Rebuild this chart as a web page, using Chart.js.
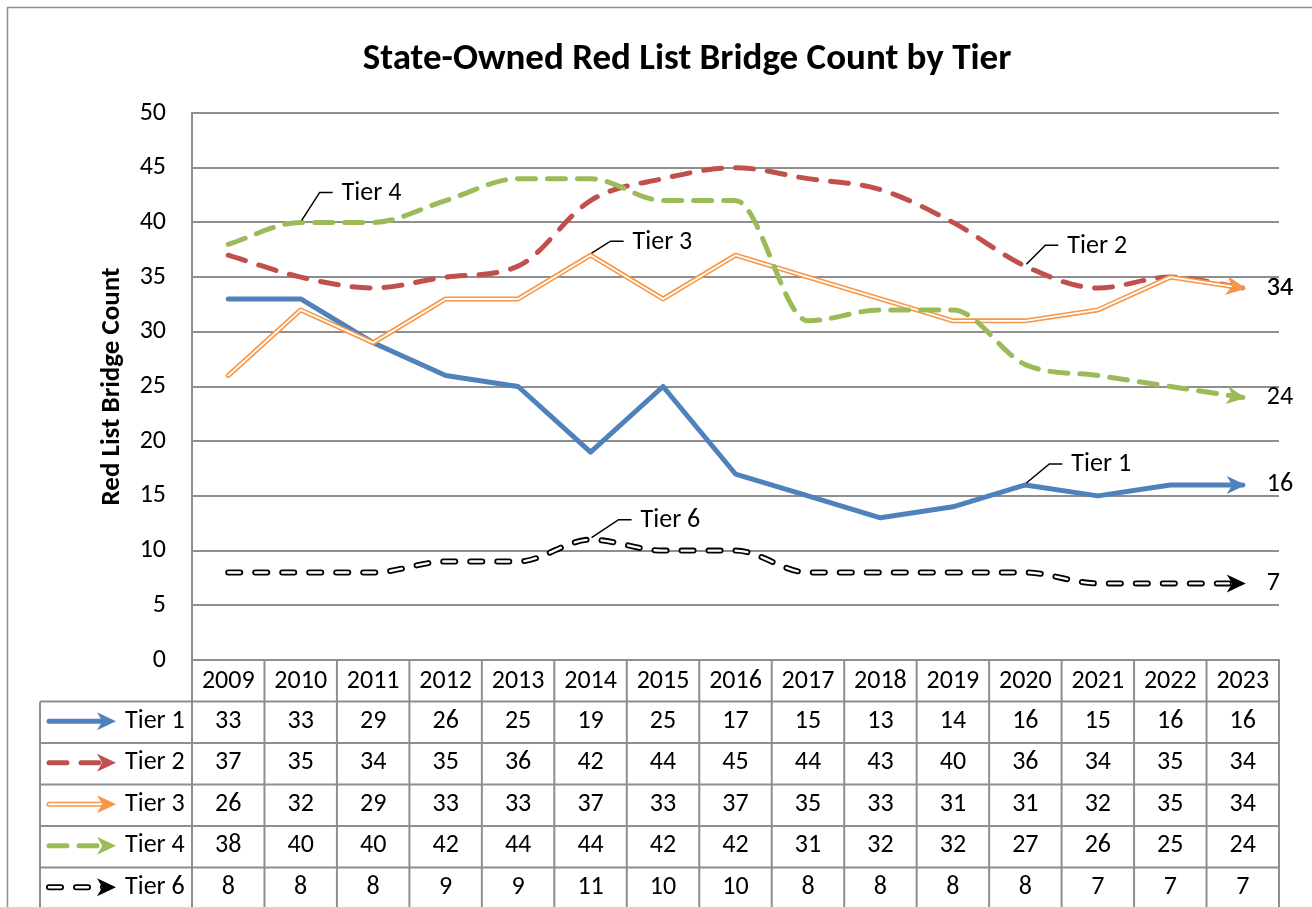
<!DOCTYPE html>
<html>
<head>
<meta charset="utf-8">
<script src="https://cdn.jsdelivr.net/npm/chart.js@4"></script>
<style>
  html, body { margin: 0; padding: 0; background: #fff; }
  canvas { display: block; }
</style>
</head>
<body>
<canvas id="bridgeChart" width="1312" height="907"></canvas>
<script>
// values
const years = ['2009', '2010', '2011', '2012', '2013', '2014', '2015', '2016', '2017', '2018', '2019', '2020', '2021', '2022', '2023'];
const tier1 = [33, 33, 29, 26, 25, 19, 25, 17, 15, 13, 14, 16, 15, 16, 16];
const tier2 = [37, 35, 34, 35, 36, 42, 44, 45, 44, 43, 40, 36, 34, 35, 34];
const tier3 = [26, 32, 29, 33, 33, 37, 33, 37, 35, 33, 31, 31, 32, 35, 34];
const tier4 = [38, 40, 40, 42, 44, 44, 42, 42, 31, 32, 32, 27, 26, 25, 24];
const tier6 = [8, 8, 8, 9, 9, 11, 10, 10, 8, 8, 8, 8, 7, 7, 7];
const seriesNames = ['Tier 1', 'Tier 2', 'Tier 3', 'Tier 4', 'Tier 6'];
const seriesValues = [tier1, tier2, tier3, tier4, tier6];
const yMin = 0, yMax = 50, yStep = 5;

const FONT = 'Carlito, Calibri, Lato, sans-serif';
const GRID = '#8e8e8e';
const TXT = 26;

// line look per tier (inner = white stripe drawn inside the line)
const looks = [
  { color: '#4F81BD', dash: [], smooth: false, width: 5 },
  { color: '#C0504D', dash: [18, 14], smooth: true, width: 5 },
  { color: '#F79646', dash: [], smooth: false, width: 5, inner: 1.8 },
  { color: '#9BBB59', dash: [18, 12], smooth: true, width: 5 },
  { color: '#000000', dash: [12, 15], smooth: true, width: 6, inner: 2.4 }
];

const datasets = [];
seriesNames.forEach((name, i) => {
  const lk = looks[i];
  const base = {
    data: seriesValues[i],
    tension: lk.smooth ? 0.4 : 0,
    cubicInterpolationMode: lk.smooth ? 'monotone' : 'default',
    borderDash: lk.dash,
    borderCapStyle: 'round',
    borderJoinStyle: 'round',
    pointRadius: 0,
    fill: false
  };
  datasets.push(Object.assign({}, base, {
    label: name, main: true, borderColor: lk.color, borderWidth: lk.width, order: 20 - i * 4
  }));
  if (lk.inner) {
    datasets.push(Object.assign({}, base, {
      label: name + ' inner', borderColor: '#ffffff', borderWidth: lk.inner, order: 19 - i * 4
    }));
  }
});

// stealth arrow, tip at (x, y), pointing along angle a
function drawArrow(ctx, x, y, a, color) {
  const L = 19, W = 18;
  ctx.save();
  ctx.translate(x, y);
  ctx.rotate(a);
  ctx.beginPath();
  ctx.moveTo(0, 0);
  ctx.lineTo(-L, -W / 2);
  ctx.lineTo(-L * 0.72, 0);
  ctx.lineTo(-L, W / 2);
  ctx.closePath();
  ctx.fillStyle = color;
  ctx.fill();
  ctx.restore();
}

// callouts: series, year index, leader offset
const callouts = [
  [3, 1, 19, -30],
  [2, 5, 20, -14],
  [1, 11, 20, -21],
  [0, 11, 24, -21],
  [4, 5, 28, -20]
];

const extras = {
  id: 'extras',
  beforeDraw(chart) {
    const ctx = chart.ctx;
    ctx.save();
    ctx.fillStyle = '#fff';
    ctx.fillRect(0, 0, chart.width, chart.height);
    ctx.strokeStyle = GRID;
    ctx.lineWidth = 1.5;
    ctx.strokeRect(7.5, 7.5, chart.width + 20, chart.height + 20);
    ctx.restore();
  },
  afterDatasetsDraw(chart) {
    const ctx = chart.ctx;
    ctx.save();
    chart.data.datasets.forEach((ds, di) => {
      if (!ds.main) return;
      const pts = chart.getDatasetMeta(di).data;
      const p = pts[pts.length - 1];
      let fx = p.cp1x, fy = p.cp1y;
      if (fx === undefined || (Math.abs(fx - p.x) < 0.5 && Math.abs(fy - p.y) < 0.5)) {
        fx = pts[pts.length - 2].x; fy = pts[pts.length - 2].y;
      }
      const a = Math.atan2(p.y - fy, p.x - fx);
      drawArrow(ctx, p.x + 3 * Math.cos(a), p.y + 3 * Math.sin(a), a, ds.borderColor);
      ctx.fillStyle = '#000';
      ctx.font = TXT + 'px ' + FONT;
      ctx.textAlign = 'left';
      ctx.textBaseline = 'middle';
      ctx.fillText(String(ds.data[ds.data.length - 1]), p.x + 24, p.y);
    });
    // leader-line callouts
    ctx.strokeStyle = '#000';
    ctx.lineWidth = 1.5;
    ctx.font = TXT + 'px ' + FONT;
    callouts.forEach(([s, idx, dx, dy]) => {
      const di = chart.data.datasets.findIndex(d => d.label === seriesNames[s]);
      const p = chart.getDatasetMeta(di).data[idx];
      ctx.beginPath();
      ctx.moveTo(p.x + 1, p.y - 2);
      ctx.lineTo(p.x + dx, p.y + dy);
      ctx.lineTo(p.x + dx + 13, p.y + dy);
      ctx.stroke();
      ctx.fillStyle = '#000';
      ctx.textAlign = 'left';
      ctx.textBaseline = 'middle';
      ctx.fillText(seriesNames[s], p.x + dx + 22, p.y + dy + 1);
    });
    ctx.restore();
  },
  afterDraw(chart) {
    // data table under the plot
    const ctx = chart.ctx;
    const area = chart.chartArea;
    const xs = chart.scales.x;
    const colW = (area.right - area.left) / years.length;
    const top = area.bottom;
    const rowH = 41.5;
    const tableLeft = 40;
    ctx.save();
    ctx.strokeStyle = GRID;
    ctx.lineWidth = 2;
    for (let r = 1; r <= seriesNames.length + 1; r++) {
      const yy = top + r * rowH;
      ctx.beginPath();
      ctx.moveTo(tableLeft, yy);
      ctx.lineTo(area.right + 1, yy);
      ctx.stroke();
    }
    ctx.beginPath();
    ctx.moveTo(area.left, top);
    ctx.lineTo(area.right + 1, top);
    ctx.stroke();
    for (let i = 0; i <= years.length; i++) {
      const xx = area.left + i * colW;
      ctx.beginPath();
      ctx.moveTo(xx, top);
      ctx.lineTo(xx, chart.height + 5);
      ctx.stroke();
    }
    ctx.beginPath();
    ctx.moveTo(tableLeft, top + rowH);
    ctx.lineTo(tableLeft, chart.height + 5);
    ctx.stroke();

    ctx.fillStyle = '#000';
    ctx.font = TXT + 'px ' + FONT;
    ctx.textAlign = 'center';
    ctx.textBaseline = 'middle';
    years.forEach((yr, i) => {
      ctx.fillText(yr, xs.getPixelForValue(i), top + rowH / 2 + 1);
    });
    seriesNames.forEach((name, s) => {
      const cy = top + (s + 1.5) * rowH - 1;
      seriesValues[s].forEach((v, i) => {
        ctx.textAlign = 'center';
        ctx.fillText(String(v), xs.getPixelForValue(i), cy);
      });
      // legend key
      const lk = looks[s];
      ctx.save();
      ctx.lineCap = 'round';
      ctx.setLineDash(lk.dash);
      ctx.strokeStyle = lk.color;
      ctx.lineWidth = lk.width;
      ctx.beginPath();
      ctx.moveTo(49, cy);
      ctx.lineTo(104, cy);
      ctx.stroke();
      if (lk.inner) {
        ctx.strokeStyle = '#fff';
        ctx.lineWidth = lk.inner;
        ctx.stroke();
      }
      ctx.restore();
      drawArrow(ctx, 116, cy, 0, lk.color);
      ctx.fillStyle = '#000';
      ctx.textAlign = 'left';
      ctx.fillText(name, 125, cy);
    });
    ctx.restore();
  }
};

new Chart(document.getElementById('bridgeChart').getContext('2d'), {
  type: 'line',
  data: { labels: years, datasets: datasets },
  options: {
    responsive: false,
    animation: false,
    layout: { padding: { left: 95, right: 33, top: 0, bottom: 247 } },
    plugins: {
      legend: { display: false },
      tooltip: { enabled: false },
      title: {
        display: true,
        text: 'State-Owned Red List Bridge Count by Tier',
        color: '#000',
        font: { family: FONT, size: 37, weight: 'bold', lineHeight: 1.2 },
        padding: { top: 38, bottom: 30.6 }
      }
    },
    scales: {
      x: { type: 'category', offset: true, display: false },
      y: {
        min: yMin,
        max: yMax,
        afterFit(scale) { scale.width = 97; },
        ticks: { stepSize: yStep, padding: 26, color: '#000', font: { family: FONT, size: TXT } },
        grid: { color: GRID, lineWidth: 2, drawTicks: false },
        border: { display: true, color: GRID, width: 2 },
        title: {
          display: true,
          text: 'Red List Bridge Count',
          color: '#000',
          font: { family: FONT, size: 27, weight: 'bold', lineHeight: 1.2 },
          padding: { top: 1, bottom: 0 }
        }
      }
    }
  },
  plugins: [extras]
});
</script>
</body>
</html>
